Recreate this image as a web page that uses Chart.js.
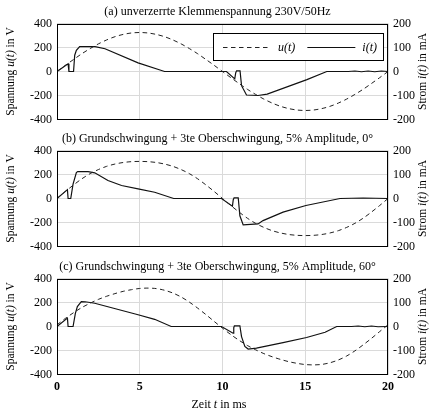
<!DOCTYPE html>
<html>
<head>
<meta charset="utf-8">
<script src="https://cdn.jsdelivr.net/npm/chart.js@4"></script>
<style>
  body { margin: 0; background: #fff; }
  #wrap { position: relative; width: 435px; height: 414px; overflow: hidden; }
  canvas { position: absolute; left: 0; }
</style>
</head>
<body>
<div id="wrap">
  <canvas id="chartA" width="435" height="134" style="top:0px"></canvas>
  <canvas id="chartB" width="435" height="134" style="top:127px"></canvas>
  <canvas id="chartC" width="435" height="159" style="top:255px"></canvas>
</div>
<script>
// ===== DATEN =====
// Zeitpunkte der Spannung (ms)
const uTime = [0, 0.5, 1, 1.5, 2, 2.5, 3, 3.5, 4, 4.5, 5, 5.5, 6, 6.5, 7, 7.5, 8, 8.5, 9, 9.5,
  10, 10.5, 11, 11.5, 12, 12.5, 13, 13.5, 14, 14.5, 15, 15.5, 16, 16.5, 17, 17.5, 18, 18.5, 19, 19.5, 20];

// Spannung u(t) in V
const uA = [0, 51, 100, 148, 191, 230, 263, 290, 309, 321, 325, 321, 309, 290, 263, 230, 191, 148, 100, 51,
  0, -51, -100, -148, -191, -230, -263, -290, -309, -321, -325, -321, -309, -290, -263, -230, -191, -148, -100, -51, 0];
const uB = [0, 58, 113, 164, 207, 241, 268, 287, 300, 307, 309, 307, 300, 287, 268, 241, 207, 164, 113, 58,
  0, -58, -113, -164, -207, -241, -268, -287, -300, -307, -309, -307, -300, -287, -268, -241, -207, -164, -113, -58, 0];
const uC = [14, 67, 115, 158, 194, 226, 252, 274, 293, 307, 317, 320, 316, 302, 279, 246, 203, 153, 99, 42,
  -14, -67, -115, -158, -194, -226, -252, -274, -293, -307, -317, -320, -316, -302, -279, -246, -203, -153, -99, -42, 14];

// Strom i(t) in mA
const iTimeA = [0, 0.67, 0.72, 1.0, 1.07, 1.17, 1.37, 2.3, 2.9, 4.9, 6.5, 10.24, 10.74, 10.8, 10.85, 11.06,
  11.15, 11.45, 12.15, 12.7, 15.1, 16.3, 17.6, 18.0, 18.4, 18.8, 19.2, 19.6, 20];
const iA = [0, 32, 0, 0, 68, 88, 104, 104, 95, 36, 0, 0, -31, -5, 3, 3,
  -59, -98, -100, -94, -34, 0, 0, 2, -1, 2, -1, 2, 0];

const iTimeB = [0, 0.63, 0.67, 0.83, 0.97, 1.17, 1.25, 1.88, 2.28, 3.08, 3.9, 4.9, 5.9, 7.05,
  9.94, 10.6, 10.65, 10.7, 10.95, 11.05, 11.25, 12.15, 12.45, 13.66, 15.04, 17.1, 18.5, 20];
const iB = [0, 37, 0, 0, 60, 108, 112, 112, 107, 75, 54, 40, 26, 0,
  0, -32, -5, 3, 3, -72, -110, -106, -92, -57, -29, 0, 2, 0];

const iTimeC = [0, 0.63, 0.67, 0.97, 1.11, 1.23, 1.47, 1.7, 2.28, 4.9, 5.9, 6.9,
  9.94, 10.64, 10.68, 10.72, 11.05, 11.15, 11.35, 11.55, 12.05, 13.66, 15.08, 16.2, 16.9,
  17.8, 18.2, 18.6, 19.0, 19.4, 20];
const iC = [0, 35, 0, 0, 55, 83, 104, 103, 97, 49, 30, 0,
  0, -28, -5, 3, 3, -42, -83, -94, -90, -67, -46, -24, 0,
  0, 2, -1, 2, -1, 0];

const titles = [
  "(a) unverzerrte Klemmenspannung 230V/50Hz",
  "(b) Grundschwingung + 3te Oberschwingung, 5% Amplitude, 0°",
  "(c) Grundschwingung + 3te Oberschwingung, 5% Amplitude, 60°"
];

// Achsentitel: [Text, kursiv]
const uTitle = [["Spannung ", false], ["u(t)", true], [" in V", false]];
const iTitle = [["Strom ", false], ["i(t)", true], [" in mA", false]];
const tTitle = [["Zeit ", false], ["t", true], [" in ms", false]];

const uTicks = [-400, -200, 0, 200, 400];
const iTicks = [-200, -100, 0, 100, 200];
const tTicks = [0, 5, 10, 15, 20];

// ===== STIL =====
const FONT = "'Liberation Serif', 'Times New Roman', serif";
Chart.defaults.font.family = FONT;
Chart.defaults.font.size = 12;
Chart.defaults.color = "#000";

const GRID = "#dadada";

// Text mit kursiven Teilen, zentriert um (cx, cy)
function mixText(ctx, parts, cx, cy, rot, size) {
  ctx.save();
  ctx.translate(cx, cy);
  ctx.rotate(rot);
  ctx.textBaseline = "middle";
  ctx.textAlign = "left";
  ctx.fillStyle = "#000";
  const fonts = parts.map(p => (p[1] ? "italic " : "") + size + "px " + FONT);
  const widths = parts.map((p, k) => { ctx.font = fonts[k]; return ctx.measureText(p[0]).width; });
  let x = -widths.reduce((s, w) => s + w, 0) / 2;
  parts.forEach((p, k) => {
    ctx.font = fonts[k];
    ctx.fillText(p[0], x, 0);
    x += widths[k];
  });
  ctx.restore();
}

// Rahmen, Achsentitel und Legende im Kasten
const rahmen = {
  id: "rahmen",
  afterDatasetsDraw(chart, args, opts) {
    if (!opts.legende) return;
    const a = chart.chartArea;
    const ctx = chart.ctx;
    const ds = chart.data.datasets;
    ctx.save();
    ctx.font = "italic 12px " + FONT;
    const w = ds.map(d => ctx.measureText(d.label).width);
    const sample = 48, gap = 7, between = 12, padL = 10, padR = 6;
    const width = padL + padR + ds.length * (sample + gap) + w[0] + w[1] + between;
    const right = a.right - 5;
    const left = right - width;
    const top = a.top + 9.5;
    const h = 27;
    ctx.fillStyle = "#fff";
    ctx.fillRect(left, top, width, h);
    ctx.strokeStyle = "#000";
    ctx.lineWidth = 1;
    ctx.strokeRect(Math.round(left) + 0.5, Math.round(top) + 0.5, Math.round(width), h);
    const yc = Math.round(top + h / 2) + 0.5;
    let x = left + padL;
    ds.forEach((d, k) => {
      ctx.setLineDash(d.borderDash || []);
      ctx.strokeStyle = d.borderColor;
      ctx.lineWidth = d.borderWidth;
      ctx.beginPath();
      ctx.moveTo(x, yc);
      ctx.lineTo(x + sample, yc);
      ctx.stroke();
      ctx.setLineDash([]);
      ctx.fillStyle = "#000";
      ctx.textBaseline = "middle";
      ctx.fillText(d.label, x + sample + gap, yc);
      x += sample + gap + w[k] + between;
    });
    ctx.restore();
  },
  afterDraw(chart, args, opts) {
    const a = chart.chartArea;
    const ctx = chart.ctx;
    ctx.save();
    ctx.strokeStyle = "#000";
    ctx.lineWidth = 1;
    ctx.strokeRect(Math.round(a.left) + 0.5, Math.round(a.top) + 0.5,
      Math.round(a.right - a.left) - 1, Math.round(a.bottom - a.top) - 1);
    ctx.restore();
    const cy = (a.top + a.bottom) / 2;
    mixText(ctx, uTitle, 11, cy, -Math.PI / 2, 11.5);
    mixText(ctx, iTitle, 423, cy, -Math.PI / 2, 11.5);
    if (opts.zeit) mixText(ctx, tTitle, 219, chart.height - 9, 0, 12);
  }
};

function pts(xs, ys) {
  return xs.map((x, k) => ({ x: x, y: ys[k] }));
}

function makeChart(id, title, uVals, iTimes, iVals, showLegend, showX, xHeight) {
  return new Chart(document.getElementById(id), {
    type: "line",
    data: {
      datasets: [{
        label: "u(t)",
        data: pts(uTime, uVals),
        yAxisID: "y",
        borderColor: "#222",
        borderWidth: 1,
        borderDash: [4.5, 3.5],
        pointRadius: 0,
        tension: 0.3
      }, {
        label: "i(t)",
        data: pts(iTimes, iVals),
        yAxisID: "y2",
        borderColor: "#111",
        borderWidth: 1.2,
        pointRadius: 0,
        tension: 0
      }]
    },
    options: {
      responsive: false,
      animation: false,
      layout: { padding: 0 },
      plugins: {
        title: {
          display: true,
          text: title,
          font: { size: 12, weight: "normal" },
          padding: { top: 4.5, bottom: 4.6 }
        },
        legend: { display: false },
        tooltip: { enabled: false },
        rahmen: { legende: showLegend, zeit: showX }
      },
      scales: {
        x: {
          type: "linear",
          min: 0,
          max: 20,
          afterBuildTicks: (s) => { s.ticks = tTicks.map(v => ({ value: v })); },
          ticks: { display: showX, padding: 5, font: { size: 12, weight: "bold" } },
          grid: { color: GRID, drawTicks: false },
          border: { display: false },
          afterFit: (s) => { s.height = xHeight; }
        },
        y: {
          position: "left",
          min: -400,
          max: 400,
          afterBuildTicks: (s) => { s.ticks = uTicks.map(v => ({ value: v })); },
          ticks: { padding: 5, font: { size: 12 } },
          grid: { color: GRID, drawTicks: false },
          border: { display: false },
          afterFit: (s) => { s.width = 57; }
        },
        y2: {
          position: "right",
          min: -200,
          max: 200,
          afterBuildTicks: (s) => { s.ticks = iTicks.map(v => ({ value: v })); },
          ticks: { padding: 5, font: { size: 12 } },
          grid: { display: false, drawTicks: false },
          border: { display: false },
          afterFit: (s) => { s.width = 47; }
        }
      }
    },
    plugins: [rahmen]
  });
}

makeChart("chartA", titles[0], uA, iTimeA, iA, true, false, 14.5);
makeChart("chartB", titles[1], uB, iTimeB, iB, false, false, 14.5);
makeChart("chartC", titles[2], uC, iTimeC, iC, false, true, 39.5);
</script>
</body>
</html>
